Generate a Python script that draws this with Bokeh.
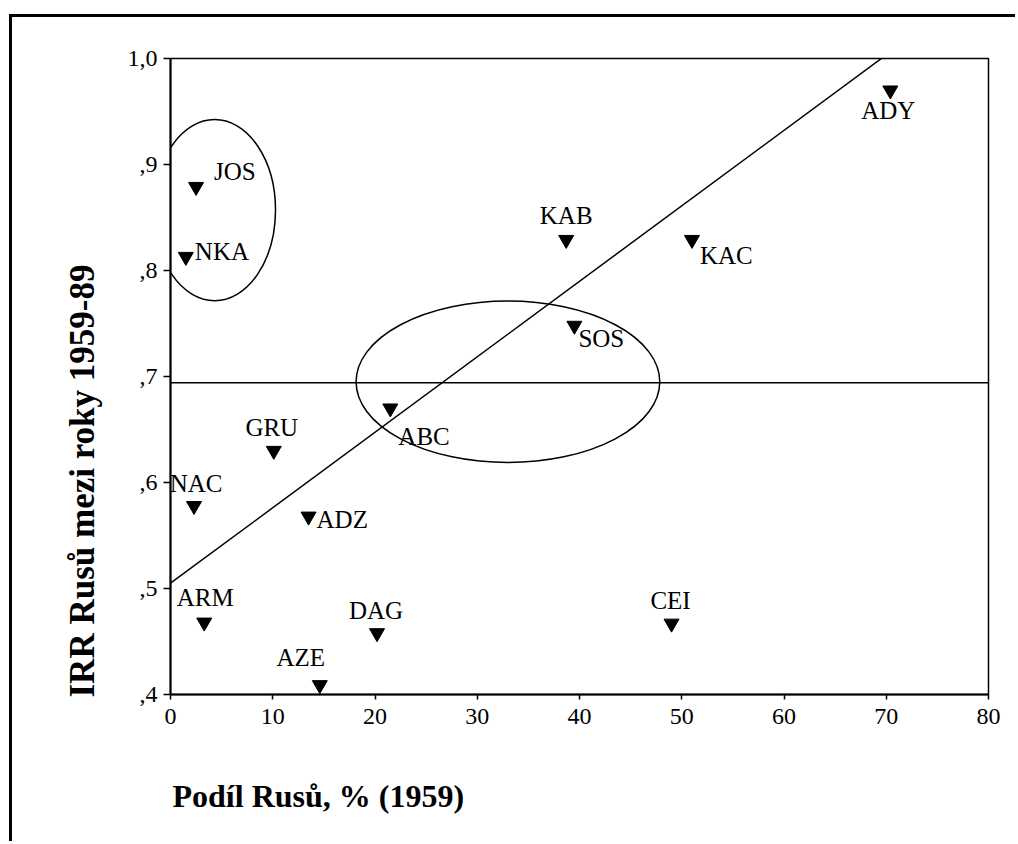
from bokeh.plotting import figure
from bokeh.models import Range1d, FixedTicker, CustomJSTickFormatter, Span, ColumnDataSource, Title
from bokeh.core.properties import value
from bokeh.embed import file_html
from bokeh.resources import INLINE

# ---- data ----
regions = ["JOS", "NKA", "ADY", "KAB", "KAC", "SOS", "ABC", "GRU", "NAC", "ADZ", "ARM", "DAG", "AZE", "CEI"]
share_russians_1959 = [2.5, 1.5, 70.4, 38.7, 51.0, 39.5, 21.5, 10.1, 2.3, 13.5, 3.3, 20.2, 14.6, 49.0]
irr_russians_1959_89 = [0.879, 0.813, 0.970, 0.829, 0.829, 0.748, 0.670, 0.630, 0.578, 0.568, 0.468, 0.458, 0.409, 0.467]

x_ticks = [0, 10, 20, 30, 40, 50, 60, 70, 80]
y_ticks = [0.4, 0.5, 0.6, 0.7, 0.8, 0.9, 1.0]

x_title = "Podíl Rusů, % (1959)"
y_title = "IRR Rusů mezi roky 1959-89"

fit_intercept = 0.505
fit_slope = 0.00712
mean_irr = 0.694

# highlighted groups (ellipses): centre x, centre y, width, height
ellipse_cx = [4.32, 33.0]
ellipse_cy = [0.857, 0.695]
ellipse_w = [11.9, 29.7]
ellipse_h = [0.171, 0.1523]

# label placement (styling, pixels)
label_dx = [18, 9, -2, 0, 8, 4, 8, -2, 2, 8, 1, -1, -19, -1]
label_dy = [-15, -5, 20, -24, 16, 13, 28, -23, -22, 3, -25, -23, -27, -23]
label_align = ["left", "left", "center", "center", "left", "left", "left",
               "center", "center", "left", "center", "center", "center", "center"]

FONT = "Liberation Serif"

p = figure(width=1006, height=827,
           x_range=Range1d(0, 80), y_range=Range1d(0.4, 1.0),
           output_backend="svg", toolbar_location=None,
           min_border_left=158, min_border_right=30,
           min_border_top=41, min_border_bottom=150,
           background_fill_color="white", border_fill_color="white")
p.styles = {"border-left": "3px solid black", "border-top": "3px solid black",
            "margin-left": "9px", "margin-top": "14px"}

p.grid.visible = False
p.outline_line_color = "black"
p.outline_line_width = 1.5
p.outline_line_alpha = 1.0

for ax in (p.xaxis, p.yaxis):
    ax.axis_line_width = 2
    ax.axis_line_color = "black"
    ax.major_tick_line_width = 1.5
    ax.major_tick_line_color = "black"
    ax.major_tick_in = 0
    ax.minor_tick_in = 0
    ax.minor_tick_out = 0
    ax.major_label_text_font = FONT
    ax.major_label_text_font_size = "24px"
    ax.major_label_text_color = "black"

p.xaxis.ticker = FixedTicker(ticks=x_ticks)
p.xaxis.major_tick_out = 5
p.xaxis.major_label_standoff = 9

p.yaxis.ticker = FixedTicker(ticks=y_ticks)
p.yaxis.major_tick_out = 7
p.yaxis.major_label_standoff = 6
p.yaxis.formatter = CustomJSTickFormatter(code="""
const s = tick.toFixed(1).replace('.', ',');
return tick < 1 ? s.slice(1) : s;
""")

# spacer panel between the x axis and its title
p.add_layout(Title(text=" ", standoff=13, text_font=FONT, text_font_size="12px"), "below")

# axis titles (left-aligned with the frame, as in the reference)
p.add_layout(Title(text=x_title, align="left", offset=2, standoff=40,
                   text_font=FONT, text_font_style="bold", text_font_size="32px",
                   text_color="black"), "below")
p.add_layout(Title(text=y_title, align="left", offset=-3, standoff=45,
                   text_font=FONT, text_font_style="bold", text_font_size="35px",
                   text_color="black"), "left")

# mean line
p.add_layout(Span(location=mean_irr, dimension="width", line_color="black", line_width=1.5))

# regression line
fx = [x_ticks[0], x_ticks[-1]]
fy = [fit_intercept + fit_slope * v for v in fx]
p.line(fx, fy, line_color="black", line_width=1.5)

# ellipses
p.ellipse(x=ellipse_cx, y=ellipse_cy, width=ellipse_w, height=ellipse_h,
          fill_alpha=0, line_color="black", line_width=1.5)

src = ColumnDataSource(dict(x=share_russians_1959, y=irr_russians_1959_89, name=regions,
                            dx=label_dx, dy=label_dy, align=label_align))

p.scatter(x="x", y="y", source=src, marker="inverted_triangle", size=15,
          fill_color="black", line_color="black")

p.text(x="x", y="y", text="name", source=src, x_offset="dx", y_offset="dy",
       text_align="align", text_baseline="middle",
       text_font=value(FONT), text_font_size="25px", text_color="black")

open("out.html", "w").write(file_html(p, INLINE))
